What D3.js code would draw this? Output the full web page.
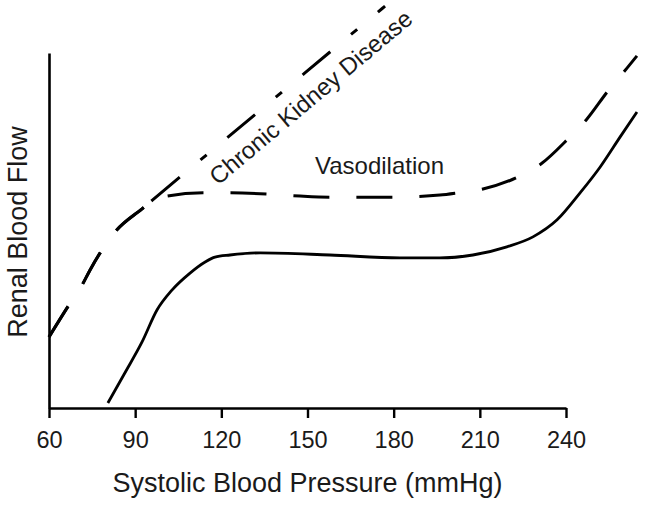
<!DOCTYPE html>
<html>
<head>
<meta charset="utf-8">
<script src="https://cdn.jsdelivr.net/npm/d3@7"></script>
<style>
  html, body { margin: 0; padding: 0; background: #fff; }
  svg { display: block; font-family: "Liberation Sans", Arial, Helvetica, sans-serif; }
</style>
</head>
<body>
<svg id="chart" width="645" height="506"></svg>
<script>
// ---- Data (systolic pressure in mmHg, renal blood flow in arbitrary units) ----
const xTicks = [60, 90, 120, 150, 180, 210, 240];

const normalX = [80.5, 86.5, 92.4, 97.6, 102.8, 109.1, 114.5, 117.8, 123.0, 133.5, 157.8, 182.2, 196.1, 207.6, 219.4, 228.5, 236.9, 244.9, 251.9, 258.8, 264.7];
const normalY = [1.4, 10.0, 18.6, 27.6, 33.2, 38.0, 41.2, 42.5, 43.1, 43.7, 43.1, 42.3, 42.3, 43.1, 45.4, 48.2, 53.0, 60.6, 67.9, 76.3, 83.4];

const vasoX = [60, 66.3, 71.5, 74.3, 77.8, 83.0, 92.4, 96.6, 101.1, 113.6, 123.0, 135.9, 147.4, 157.8, 180.5, 196.1, 202.1, 211.1, 223.3, 231.7, 240.7, 247.3, 254.6, 261.3, 264.7];
const vasoY = [20.0, 28.2, 34.6, 38.9, 43.7, 49.6, 56.1, 58.6, 59.7, 60.6, 60.6, 60.3, 59.7, 59.4, 59.4, 60.0, 60.6, 61.7, 65.1, 69.0, 75.8, 81.4, 89.3, 95.8, 99.2];

const ckdX = [60, 66.3, 71.5, 74.3, 77.8, 83.0, 92.4, 95.9, 122.3, 149.1, 177.0];
const ckdY = [20.0, 28.2, 34.6, 38.9, 43.7, 49.6, 56.1, 58.5, 76.3, 94.4, 113.2];

const labels = {
  x: "Systolic Blood Pressure (mmHg)",
  y: "Renal Blood Flow",
  ckd: "Chronic Kidney Disease",
  vaso: "Vasodilation"
};

// ---- Scales ----
const svg = d3.select("#chart");
const x = d3.scaleLinear().domain([60, 240]).range([49, 566]);
const y = d3.scaleLinear().domain([0, 100]).range([408, 53]);

const zip = (xs, ys) => xs.map((v, i) => [v, ys[i]]);
const line = d3.line().x(d => x(d[0])).y(d => y(d[1])).curve(d3.curveMonotoneX);

// ---- Axes ----
const xAxis = svg.append("g")
  .attr("transform", `translate(0,${y(0)})`)
  .call(d3.axisBottom(x).tickValues(xTicks).tickSize(10).tickSizeOuter(0));
xAxis.select(".domain").attr("stroke", "#000").attr("stroke-width", 2.6);
xAxis.selectAll(".tick line").attr("stroke", "#000").attr("stroke-width", 2.4);
xAxis.selectAll(".tick text")
  .attr("dy", null).attr("y", 40)
  .attr("fill", "#1a1a1a")
  .style("font-size", "23.5px")
  .style("font-family", "'Liberation Sans', Arial, sans-serif");

const yAxis = svg.append("g")
  .attr("transform", `translate(${x(60)},0)`)
  .call(d3.axisLeft(y).tickValues([]).tickSizeOuter(0));
yAxis.select(".domain").attr("stroke", "#000").attr("stroke-width", 2.6);

// ---- Curves ----
svg.append("path")
  .datum(zip(normalX, normalY))
  .attr("d", line)
  .attr("fill", "none").attr("stroke", "#000").attr("stroke-width", 2.8)
  .attr("stroke-linejoin", "round");

svg.append("path")
  .datum(zip(vasoX, vasoY))
  .attr("d", line)
  .attr("fill", "none").attr("stroke", "#000").attr("stroke-width", 3)
  .attr("stroke-dasharray", "36,27");

svg.append("path")
  .datum(zip(ckdX, ckdY))
  .attr("d", line)
  .attr("fill", "none").attr("stroke", "#000").attr("stroke-width", 3)
  .attr("stroke-dasharray", "36,27,36,27,36,10,37,27,8,27,36,27,8,27,36,27,8,27,36,27");

// ---- Labels ----
svg.append("text")
  .attr("transform", "translate(218,186) rotate(-40)")
  .attr("fill", "#1a1a1a")
  .style("font-size", "24px")
  .text(labels.ckd);

svg.append("text")
  .attr("x", 315).attr("y", 174)
  .attr("fill", "#1a1a1a")
  .style("font-size", "24px")
  .text(labels.vaso);

svg.append("text")
  .attr("x", 307.5).attr("y", 492)
  .attr("text-anchor", "middle")
  .attr("fill", "#1a1a1a")
  .style("font-size", "27px")
  .text(labels.x);

svg.append("text")
  .attr("transform", "translate(27,232) rotate(-90)")
  .attr("text-anchor", "middle")
  .attr("fill", "#1a1a1a")
  .style("font-size", "27px")
  .text(labels.y);
</script>
</body>
</html>
